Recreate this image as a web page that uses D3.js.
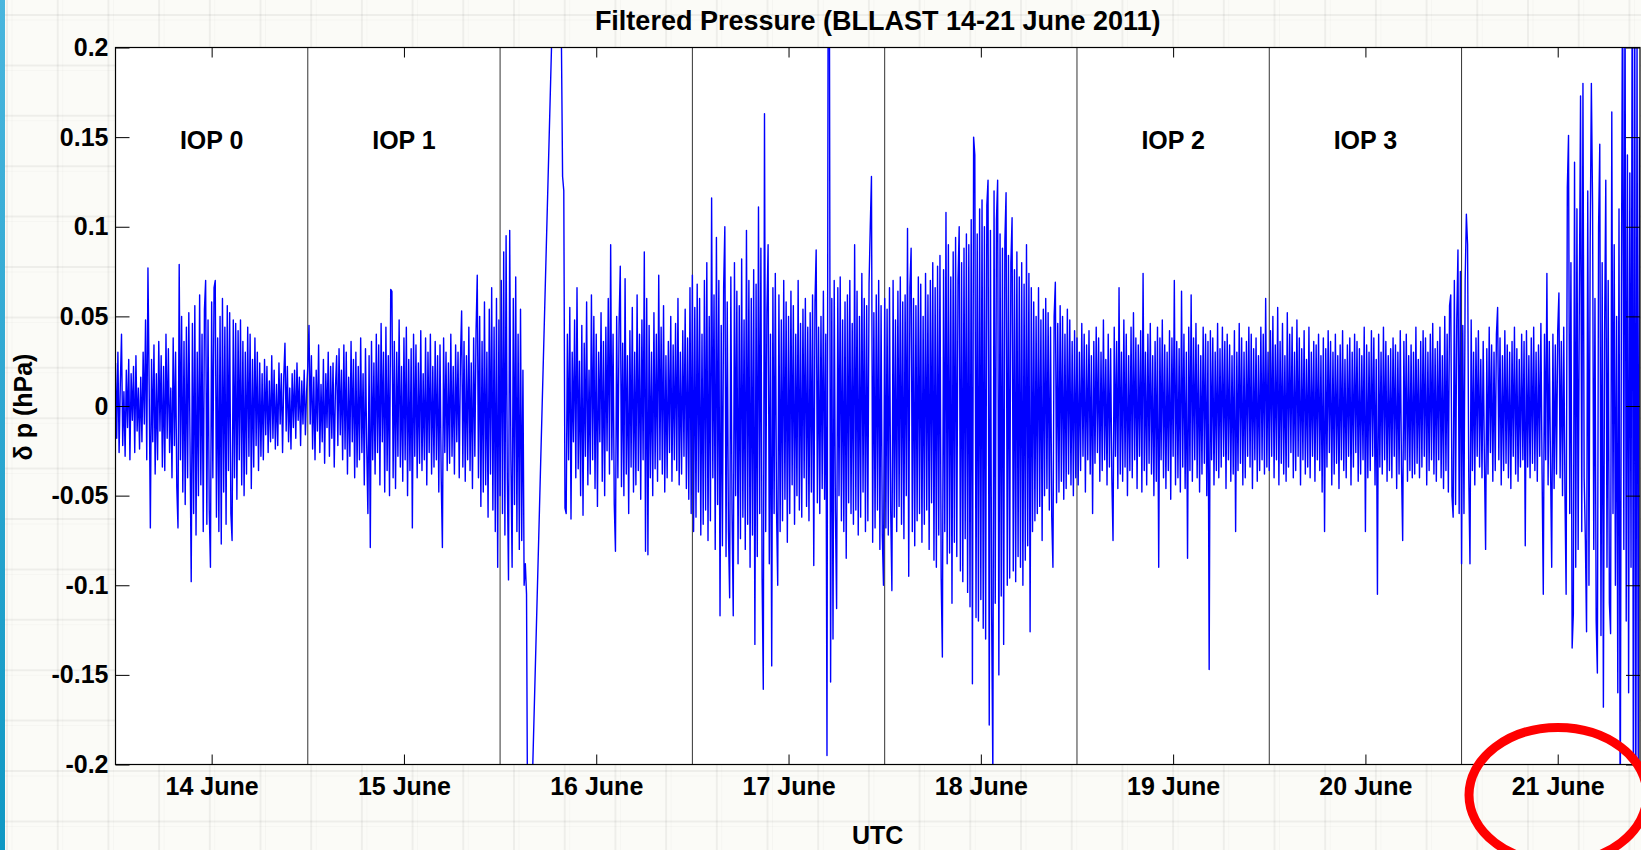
<!DOCTYPE html>
<html>
<head>
<meta charset="utf-8">
<script src="https://cdn.jsdelivr.net/npm/d3@7"></script>
<style>
  body { margin: 0; background: #fbfbf7; }
  svg { display: block; font-family: "Liberation Sans", Arial, sans-serif; }
</style>
</head>
<body>
<svg id="chart"></svg>
<script>
// filtered pressure, 10^-3 hPa, one value every 0.15 h (9 min)
const stepHours = 0.15;

const jun14 = [
  24, -18, 30, -26, 12, 40, -22, 8, -28, 20,
  -12, 26, -30, 18, -8, 22, -26, 28, -14, 10,
  -24, 16, -20, 30, -10, 48, -30, 77, 12, -68,
  26, -20, 34, -38, 18, -30, 36, -14, 28, -34,
  22, -36, 40, -18, 32, -26, 10, -40, 38, -22,
  30, -45, -68, 79, -30, 50, -48, 36, -55, 44,
  -40, 52, -20, -98, 46, -60, 56, -72, 30, -50,
  62, -44, 40, -70, 54, 70, -66, 48, -58, -90,
  58, -40, 66, 70, -62, 38, -70, 50, -77, 60,
  -48, 44, -66, 56, -36, 52, -60, -75, 48, -40,
  46, -52, 42, -30, 48, -44, 36, -50, 30, -38,
  44, -28, 40, -46, 26, -34, 38, -22, 30, -36,
  24, -28, 18, -30, 26, -16, 22, -26, 14, -20,
  28, -18, 20, -24, 12, -22, 24, -10, 18, -26,
  16, 35, -14, 22, -20, 10, -24, 18, -12, 20,
  -18, 24, -8, 16, -22, 14, -10, 20, -16, 8
];

const jun15 = [
  22, 45, -10, 28, -24, 16, -30, 20, -14, 34,
  -26, 12, -20, 26, -32, 18, -12, 30, -28, 22,
  -18, 24, -34, 10, 28, -22, 32, -16, 20, -30,
  34, -24, 30, -38, 16, -28, 36, -20, 26, -40,
  30, -34, 22, -30, 38, -26, 18, -44, 32, -22,
  -60, 28, -79, 36, -30, 24, -38, 40, -26, 34,
  -44, 46, -20, 30, -48, 44, -36, 28, -50, 65,
  64, -40, 36, -46, 30, -28, 48, -34, 22, -42,
  38, -30, 44, -50, 26, -36, 32, -68, 40, -28,
  34, -40, 24, -32, 42, -36, 18, -30, 38, -44,
  30, -26, 40, -38, 22, -34, 36, -30, 28, -48,
  34, -40, -79, 38, -26, 30, -36, 24, -32, 40,
  -28, 22, -38, 34, -20, 30, -40, 26, 53, -34,
  36, -42, 28, -30, 44, -36, 24, -46, 38, -28,
  42, 73, -40, 50, -56, 36, -48, 58, -44, 30,
  -62, 54, -38, 66, -58, 44, -70, 60, -90, 48
];

const jun16Early = [
  -50, 70, -60, 86, -72, 95, -40, -97, 98, -30,
  -90, 60, -55, 72, -70, 40, -80, 54, -75, 20,
  -100, -88, -105
];

// the two points inside the data gap: [hours after 14 June 00 UTC, value]
const jun16Gap = [[51.5, -300], [55.35, 360]];

const jun16Late = [
  128, 120, -57, -60, 40, -30, 55, -63, 30, -20,
  48, -40, 66, -35, 25, -50, 45, -61, 35, -28,
  58, -44, 20, -38, 62, -30, 50, -46, 40, -56,
  30, -20, 52, -42, 36, -50, 44, -25, 60, -38,
  90, -30, 40, -55, -81, 50, -40, 46, 78, -45,
  35, -50, 71, -38, 28, -60, 42, -34, 55, -48,
  30, -44, 62, -36, 40, -52, 48, -30, 86, -81,
  60, -83, 45, -40, 30, -50, 52, -35, 40, -42,
  73, -30, 44, -38, 56, -48, 28, -40, 36, -26,
  50, -42, 34, -30, 46, -36, 60, -44, 30, -38,
  42, -28, 54, -46, 38, -52, 66, -60
];

const jun17 = [
  73, -70, 55, -62, 68, -48, 60, -72, 40, -66,
  70, -58, 80, -75, 50, -64, 116, -40, 62, -80,
  94, -55, 70, -117, 45, -78, 66, 100, -84, 58,
  -70, -107, 72, -60, -117, 80, -50, 64, -88, 56,
  -74, 82, -62, 48, -80, 98, -66, 70, -90, 60,
  -72, 76, -133, 68, -84, 111, -60, 88, -96, -158,
  163, -70, 52, 90, -88, 40, -145, 66, -60, 74,
  -58, -100, 62, -70, 48, -64, 70, -52, 58, -76,
  50, -60, 64, -44, 56, -66, 40, -50, 70, -58,
  46, -62, 54, -40, 60, -56, 44, -64, 52, -48,
  62, -89, 58, 87, -54, 44, -60, 50, -46, 64,
  -52, 40, -195, 260, 235, -154, 60, -130, 70, -58,
  -113, 66, -50, 72, -64, 48, -70, 58, -85, 62,
  -54, 70, -60, 46, -66, 90, -58, 64, -72, 50,
  -62, 74, -48, 60, -70, 56, -64, 68, 100, 128,
  -76, 52, -68, 62, -58, 70, -80, 56, -72, -100
];

const jun18 = [
  60, -68, 54, -72, 66, -58, -103, 70, -62, 48,
  -70, 64, -56, 72, -66, 58, -74, 62, -50, 99,
  -95, 66, 88, -70, 60, -78, 56, -64, 72, -60,
  68, -76, 50, -66, 74, -58, 62, -80, 70, -54,
  80, -86, 66, -90, 78, -72, 84, -96, -140, 76,
  -70, 108, -88, 90, -82, 72, -110, 86, -76, 94,
  -84, 70, 100, -92, 80, -98, 88, -74, 96, -104,
  90, -112, 104, -155, 150, 140, -118, 96, -120, 110,
  -108, 115, -124, 100, -130, 112, 126, -178, 98, -116,
  -205, 120, -110, 104, 126, -150, 96, -106, 88, -133,
  92, 119, -100, 84, -96, 80, 105, -92, 76, -98,
  86, -84, 72, -90, 80, -100, 68, -86, 90, -78,
  74, -126, 66, -70, 58, -64, 50, -60, 66, -56,
  48, -75, 54, -50, 60, -46, 52, -58, 44, -62,
  -90, 50, 69, -54, 46, -48, 56, -42, 50, -52,
  40, -46, 54, -38, 48, -44, 36, -50, 42, -40
];

const jun19 = [
  38, -44, 30, -36, 46, -28, 40, -48, 34, -30,
  42, -38, 28, -60, 36, -32, 44, -26, 38, -42,
  30, -36, 48, -30, 26, -44, 40, -34, 32, -40,
  -75, 44, -28, 36, -46, 66, -38, 30, -42, 48,
  -34, 40, -50, 28, -36, 44, -40, 52, -30, 38,
  -46, 34, -28, 42, -48, 74, -36, 30, -44, 40,
  -32, 46, -38, 28, -50, 36, -42, 44, -90, 38,
  -30, 48, -40, 34, -46, 30, -36, 42, -52, 38,
  -28, 70, -44, 36, -40, 32, -48, 64, -34, 40,
  -46, 30, -85, 44, -36, 62, -42, 38, -30, 46,
  -40, 34, -48, 28, -38, 44, -32, 40, -50, 36,
  -147, 42, -30, 38, -44, 30, -36, 46, -40, 32,
  -34, 44, -28, 36, -46, 40, -30, 34, -42, 28,
  -38, 42, -70, 30, -36, 46, -32, 38, -44, 30,
  -40, 36, -28, 44, -34, 40, -46, 32, -30, 38,
  -42, 28, -36, 44, -30, 40, -38, 60, -34, 30
];

const jun20 = [
  -36, 42, -28, 50, -40, 34, -30, 55, -44, 36,
  -32, 46, -38, 28, -42, 52, -34, 40, -26, 44,
  -40, 30, -36, 48, -28, 38, -44, 32, -30, 42,
  -38, 26, -34, 44, -40, 30, -28, 36, -42, 34,
  -30, 40, -36, 28, -48, 38, -70, 32, -34, 42,
  -26, 36, -44, 30, -38, 40, -32, 28, -46, 34,
  -30, 42, -36, 26, -40, 34, -28, 38, -44, 30,
  -34, 40, -26, 36, -42, 32, -38, 28, -30, 44,
  -70, 34, -40, 30, -36, 42, -28, 38, -44, 26,
  -105, 40, -34, 30, -38, 44, -30, 36, -42, 28,
  -36, 32, -40, 38, -28, 34, -46, 30, -38, 42,
  -34, -75, 36, -30, 40, -42, 28, -36, 34, -40,
  30, -38, 44, -32, 26, -40, 36, -34, 42, -28,
  38, -44, 30, -36, 40, -30, 46, -38, 32, -42,
  36, -30, 44, -40, 28, -46, 50, -36, 40, -48,
  56, 62, -50, -62, 70, -55, 48, 87, -60, 75
];

const jun21 = [
  -88, 45, -60, 70, 107, 90, -40, -88, 48, -36,
  30, -44, 38, -28, 42, -34, 26, -40, 36, -30,
  -80, 32, -38, 44, -26, 34, -42, 30, -36, 40,
  55, -30, 38, -44, 28, -36, 42, -32, 34, -40,
  30, -46, 36, -28, 44, -38, 32, -42, 26, -34,
  40, -30, 36, -78, 42, -34, 28, -40, 38, -32,
  44, -36, 30, -42, 34, -28, 46, -38, -105, 40,
  -30, 74, -44, 36, -32, -90, 40, -46, 34, -38,
  42, 63, -40, 36, -50, 44, -48, -105, 122, 151,
  -60, 80, -135, -116, 136, -90, 110, -80, 60, 173,
  -70, 180, -40, -74, -126, 120, -100, 90, 180, 112,
  -80, 60, -120, -149, 100, 146, -128, 80, -168, 40,
  126, -90, 70, -110, -127, 164, -60, 90, -100, 50,
  -160, 110, -250, 60, 260, -80, 240, -120, 140, -160,
  130, -90, 250, -260, 280, -240, 210, -200, 150
];

// series in time order and the hour (after 14 June 00 UTC) where each starts
const series = [jun14, jun15, jun16Early, jun16Late, jun17, jun18, jun19, jun20, jun21];
const seriesStart = [0, 24, 48, 55.8, 72, 96, 120, 144, 168];

const dayNumbers = [14, 15, 16, 17, 18, 19, 20, 21];
const dayLabels = ['14 June', '15 June', '16 June', '17 June', '18 June', '19 June', '20 June', '21 June'];
const iopDays = [14, 15, 19, 20];
const iopNames = ['IOP 0', 'IOP 1', 'IOP 2', 'IOP 3'];
const yTicks = [-0.2, -0.15, -0.1, -0.05, 0, 0.05, 0.1, 0.15, 0.2];

const width = 1641;
const height = 850;
const plotLeft = 115.5, plotRight = 1640, plotTop = 47.5, plotBottom = 764.5;
const hourMs = 3600e3;
const t0 = Date.UTC(2011, 5, 14);

const svg = d3.select('#chart').attr('width', width).attr('height', height);

// build the points
let points = [];
series.forEach((vals, k) => {
    vals.forEach((v, i) => {
        points.push({ t: new Date(t0 + (seriesStart[k] + i * stepHours) * hourMs), v: v / 1000 });
    });
    if (vals === jun16Early) {
        jun16Gap.forEach(g => points.push({ t: new Date(t0 + g[0] * hourMs), v: g[1] / 1000 }));
    }
});

const x = d3.scaleUtc()
    .domain([new Date(t0), new Date(t0 + 190.27 * hourMs)])
    .range([plotLeft, plotRight]);
const y = d3.scaleLinear().domain([-0.2, 0.2]).range([plotBottom, plotTop]);

// paper background
const defs = svg.append('defs');
const bg = svg.append('g');
bg.append('rect').attr('width', width).attr('height', height).attr('fill', '#fbfbf7');
d3.range(7, width, 50.7).forEach(gx => {
    bg.append('line').attr('x1', gx).attr('x2', gx).attr('y1', 0).attr('y2', height)
        .attr('stroke', '#000').attr('stroke-opacity', 0.05).attr('stroke-width', 2);
    bg.append('line').attr('x1', gx + 5).attr('x2', gx + 5).attr('y1', 0).attr('y2', height)
        .attr('stroke', '#000').attr('stroke-opacity', 0.025).attr('stroke-width', 1);
});
d3.range(15, height, 50.4).forEach(gy => {
    bg.append('line').attr('x1', 0).attr('x2', width).attr('y1', gy).attr('y2', gy)
        .attr('stroke', '#000').attr('stroke-opacity', 0.05).attr('stroke-width', 2);
    bg.append('line').attr('x1', 0).attr('x2', width).attr('y1', gy + 5).attr('y2', gy + 5)
        .attr('stroke', '#000').attr('stroke-opacity', 0.025).attr('stroke-width', 1);
});
const grad = defs.append('linearGradient').attr('id', 'strip')
    .attr('x1', 0).attr('x2', 0).attr('y1', 0).attr('y2', 1);
grad.append('stop').attr('offset', 0).attr('stop-color', '#4ab6de');
grad.append('stop').attr('offset', 1).attr('stop-color', '#0f98c4');
bg.append('rect').attr('width', 5).attr('height', height).attr('fill', 'url(#strip)');

// plot area
svg.append('rect').attr('x', plotLeft).attr('y', plotTop)
    .attr('width', plotRight - plotLeft).attr('height', plotBottom - plotTop).attr('fill', '#fff');

defs.append('clipPath').attr('id', 'clip')
    .append('rect').attr('x', plotLeft).attr('y', plotTop)
    .attr('width', plotRight - plotLeft).attr('height', plotBottom - plotTop);

// midnight separators
const midnights = dayNumbers.slice(1).map(d => new Date(Date.UTC(2011, 5, d)));
svg.append('g').selectAll('line').data(midnights).enter().append('line')
    .attr('x1', d => x(d)).attr('x2', d => x(d))
    .attr('y1', plotTop).attr('y2', plotBottom)
    .attr('stroke', '#333').attr('stroke-width', 1);

const line = d3.line().x(d => x(d.t)).y(d => y(d.v));
svg.append('path')
    .datum(points)
    .attr('clip-path', 'url(#clip)')
    .attr('fill', 'none')
    .attr('stroke', '#0000ff')
    .attr('stroke-width', 1.4)
    .attr('stroke-linejoin', 'round')
    .attr('d', line);

// axes
const noons = dayNumbers.map(d => new Date(Date.UTC(2011, 5, d, 12)));
const fmt = d => String(+d.toFixed(2));

function styleAxis(g) {
    g.select('.domain').remove();
    g.selectAll('.tick line').attr('stroke', '#000').attr('stroke-width', 1);
    g.selectAll('text')
        .attr('fill', '#000')
        .style('font-family', '"Liberation Sans", Arial, sans-serif')
        .style('font-size', '25px')
        .style('font-weight', 'bold');
}

svg.append('g').attr('transform', `translate(0, ${plotBottom})`)
    .call(d3.axisBottom(x).tickValues(noons).tickFormat((d, i) => dayLabels[i])
        .tickSizeInner(-10).tickSizeOuter(0).tickPadding(12.5))
    .call(styleAxis);
svg.append('g').attr('transform', `translate(0, ${plotTop})`)
    .call(d3.axisTop(x).tickValues(noons).tickFormat('')
        .tickSizeInner(-10).tickSizeOuter(0))
    .call(styleAxis);
svg.append('g').attr('transform', `translate(${plotLeft}, 0)`)
    .call(d3.axisLeft(y).tickValues(yTicks).tickFormat(fmt)
        .tickSizeInner(-14).tickSizeOuter(0).tickPadding(7))
    .call(styleAxis);
svg.append('g').attr('transform', `translate(${plotRight}, 0)`)
    .call(d3.axisRight(y).tickValues(yTicks).tickFormat('')
        .tickSizeInner(-14).tickSizeOuter(0))
    .call(styleAxis);

svg.append('rect').attr('x', plotLeft).attr('y', plotTop)
    .attr('width', plotRight - plotLeft).attr('height', plotBottom - plotTop)
    .attr('fill', 'none').attr('stroke', '#000').attr('stroke-width', 1.2);

// labels
const label = (txt, tx, ty, size) => svg.append('text')
    .attr('x', tx).attr('y', ty)
    .attr('text-anchor', 'middle')
    .style('font-size', size + 'px').style('font-weight', 'bold')
    .attr('fill', '#000')
    .text(txt);

label('Filtered Pressure (BLLAST 14-21 June 2011)', (plotLeft + plotRight) / 2, 29.5, 27);
label('UTC', (plotLeft + plotRight) / 2, 844, 25);
svg.append('text')
    .attr('transform', 'translate(32, 407) rotate(-90)')
    .attr('text-anchor', 'middle')
    .style('font-size', '25px').style('font-weight', 'bold')
    .text('δ p (hPa)');

iopDays.forEach((d, i) => {
    label(iopNames[i], x(new Date(Date.UTC(2011, 5, d, 12))), 149, 25);
});

// red annotation ring
svg.append('ellipse')
    .attr('cx', 1558).attr('cy', 795).attr('rx', 89).attr('ry', 67.5)
    .attr('fill', 'none').attr('stroke', '#ff0000').attr('stroke-width', 9);
</script>
</body>
</html>
